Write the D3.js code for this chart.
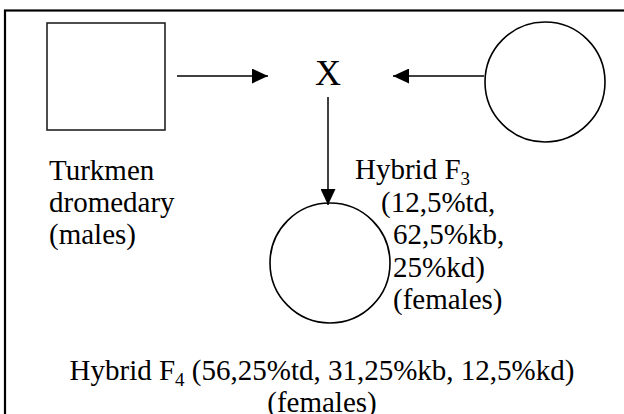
<!DOCTYPE html>
<html lang="en">
<head>
<meta charset="UTF-8">
<title>Hybrid F4 crossing scheme</title>
<style>
    body { margin: 0; padding: 0; background: #fff; }
    svg { display: block; }
</style>
</head>
<body>
<svg id="diagram" width="624" height="414"></svg>
<script src="https://d3js.org/d3.v7.min.js"></script>
<script>
// parents and offspring (shape only)
const nodes = [
    {id: "dromedary", shape: "square"},
    {id: "cross", shape: "x"},
    {id: "f3", shape: "circle"},
    {id: "f4", shape: "circle"}
];

// who goes where
const links = [
    {source: "dromedary", target: "cross"},
    {source: "f3", target: "cross"},
    {source: "cross", target: "f4"}
];

// text blocks, one entry per line; sub = subscript after the text
const leftLabel = ["Turkmen", "dromedary", "(males)"];
const f3Label = [
    {text: "Hybrid F", sub: "3"},
    {text: "(12,5%td,"},
    {text: "62,5%kb,"},
    {text: "25%kd)"},
    {text: "(females)"}
];
const f4Label = [
    {text: "Hybrid F", sub: "4", rest: " (56,25%td, 31,25%kb, 12,5%kd)"},
    {text: "(females)"}
];

// layout (pixels)
const pos = {
    dromedary: {x: 106, y: 76.5, w: 118, h: 107},
    cross: {x: 328, y: 76},
    f3: {x: 545, y: 82, r: 60},
    f4: {x: 330, y: 263, r: 60}
};
const serif = "'Liberation Serif', 'DejaVu Serif', serif";

const svg = d3.select("#diagram")
    .style("font-family", serif);

// frame, runs off the right and bottom of the page
svg.append("rect")
    .attr("x", 5).attr("y", 10.5)
    .attr("width", 640).attr("height", 430)
    .attr("fill", "none")
    .attr("stroke", "#000")
    .attr("stroke-width", 2.2);

svg.append("defs").append("marker")
    .attr("id", "head")
    .attr("viewBox", "0 0 16 15")
    .attr("refX", 16).attr("refY", 7.5)
    .attr("markerWidth", 16).attr("markerHeight", 15)
    .attr("markerUnits", "userSpaceOnUse")
    .attr("orient", "auto")
    .append("path")
    .attr("d", "M0,0L16,7.5L0,15Z")
    .attr("fill", "#000");

// arrow end points
const ends = {
    "dromedary>cross": [[177, 76], [268, 76]],
    "f3>cross": [[484, 76], [393, 76]],
    "cross>f4": [[328, 97], [328, 205]]
};

svg.append("g").selectAll("line")
    .data(links)
    .join("line")
    .attr("x1", d => ends[d.source + ">" + d.target][0][0])
    .attr("y1", d => ends[d.source + ">" + d.target][0][1])
    .attr("x2", d => ends[d.source + ">" + d.target][1][0])
    .attr("y2", d => ends[d.source + ">" + d.target][1][1])
    .attr("stroke", "#000")
    .attr("stroke-width", 1.5)
    .attr("marker-end", "url(#head)");

const g = svg.append("g");

g.selectAll("rect.node")
    .data(nodes.filter(d => d.shape === "square"))
    .join("rect")
    .attr("class", "node")
    .attr("x", d => pos[d.id].x - pos[d.id].w / 2)
    .attr("y", d => pos[d.id].y - pos[d.id].h / 2)
    .attr("width", d => pos[d.id].w)
    .attr("height", d => pos[d.id].h)
    .attr("fill", "none")
    .attr("stroke", "#222")
    .attr("stroke-width", 1.6);

g.selectAll("circle.node")
    .data(nodes.filter(d => d.shape === "circle"))
    .join("circle")
    .attr("class", "node")
    .attr("cx", d => pos[d.id].x)
    .attr("cy", d => pos[d.id].y)
    .attr("r", d => pos[d.id].r)
    .attr("fill", "none")
    .attr("stroke", "#000")
    .attr("stroke-width", 1.6);

g.selectAll("text.cross")
    .data(nodes.filter(d => d.shape === "x"))
    .join("text")
    .attr("class", "cross")
    .attr("x", d => pos[d.id].x)
    .attr("y", 85)
    .attr("text-anchor", "middle")
    .style("font-family", serif)
    .attr("font-size", 36)
    .text("X");

// left caption
svg.append("g").selectAll("text")
    .data(leftLabel)
    .join("text")
    .attr("x", 49)
    .attr("y", (d, i) => 180 + i * 32)
    .style("font-family", serif)
    .attr("font-size", 29)
    .text(d => d);

function writeLine(sel) {
    sel.append("tspan").text(d => d.text);
    sel.filter(d => d.sub).append("tspan")
        .attr("font-size", 19)
        .attr("dy", 6)
        .text(d => d.sub);
    sel.filter(d => d.rest).append("tspan")
        .attr("dy", -6)
        .text(d => d.rest);
}

const f3x = [355, 381, 393, 393, 393];
svg.append("g").selectAll("text")
    .data(f3Label)
    .join("text")
    .attr("x", (d, i) => f3x[i])
    .attr("y", (d, i) => 179 + i * 32.5)
    .style("font-family", serif)
    .attr("font-size", 29)
    .call(writeLine);

svg.append("g").selectAll("text")
    .data(f4Label)
    .join("text")
    .attr("x", 322)
    .attr("y", (d, i) => 380 + i * 32)
    .attr("text-anchor", "middle")
    .style("font-family", serif)
    .attr("font-size", 29)
    .call(writeLine);
</script>
</body>
</html>
